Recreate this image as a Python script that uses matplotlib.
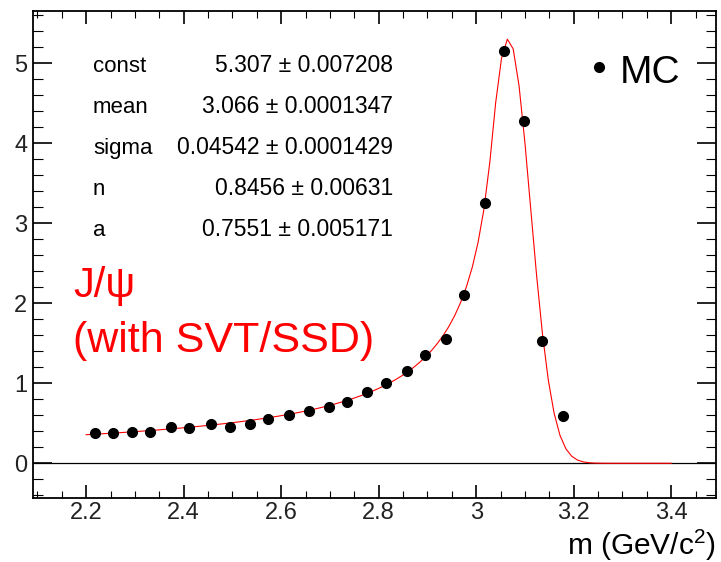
import numpy as np
import matplotlib
matplotlib.use("Agg")
import matplotlib.pyplot as plt
from matplotlib.ticker import MultipleLocator, FuncFormatter

plt.rcParams['font.family'] = ['Liberation Sans', 'DejaVu Sans']
plt.rcParams['mathtext.fontset'] = 'custom'
plt.rcParams['mathtext.rm'] = 'Liberation Sans'

# MC points
mass_mc = [2.2185, 2.256, 2.295, 2.330, 2.374, 2.412, 2.456, 2.495, 2.536,
           2.574, 2.617, 2.658, 2.698, 2.735, 2.777, 2.815, 2.858, 2.895,
           2.938, 2.976, 3.018, 3.058, 3.098, 3.135, 3.178]
yield_mc = [0.383, 0.383, 0.396, 0.396, 0.458, 0.438, 0.491, 0.458, 0.491,
            0.550, 0.604, 0.658, 0.708, 0.766, 0.896, 1.008, 1.158, 1.350,
            1.550, 2.100, 3.258, 5.158, 4.283, 1.533, 0.588]

# Crystal Ball fit parameters (from the stats text)
par_names = ["const", "mean", "sigma", "n", "a"]
par_values = [5.307, 3.066, 0.04542, 0.8456, 0.7551]
par_errors = ["0.007208", "0.0001347", "0.0001429", "0.00631", "0.005171"]
par_labels = ["5.307", "3.066", "0.04542", "0.8456", "0.7551"]
fit_range = (2.2, 3.4)


def crystal_ball(x, const, mean, sigma, n, a):
    t = (x - mean) / sigma
    aa = abs(a)
    A = (n / aa) ** n * np.exp(-0.5 * aa * aa)
    B = n / aa - aa
    out = np.empty_like(t)
    core = t > -aa
    out[core] = np.exp(-0.5 * t[core] ** 2)
    out[~core] = A * (B - t[~core]) ** (-n)
    return const * out


fig = plt.figure(figsize=(7.21, 5.62), dpi=100)
ax = fig.add_axes([33 / 721, 1 - 498 / 562, 683 / 721, 487 / 562])

xf = np.linspace(fit_range[0], fit_range[1], 101)
ax.plot(xf, crystal_ball(xf, *par_values), color='red', lw=0.8, zorder=2)
ax.axhline(0, color='black', lw=0.9, zorder=1)
ax.plot(mass_mc, yield_mc, 'o', color='black', ms=7, zorder=3)

ax.set_xlim(2.091, 3.492)
ax.set_ylim(-0.434, 5.654)

ax.xaxis.set_major_locator(MultipleLocator(0.2))
ax.xaxis.set_minor_locator(MultipleLocator(0.05))
ax.yaxis.set_major_locator(MultipleLocator(1))
ax.yaxis.set_minor_locator(MultipleLocator(0.2))
fmt = FuncFormatter(lambda v, p: "%g" % round(v, 3))
ax.xaxis.set_major_formatter(fmt)
ax.yaxis.set_major_formatter(fmt)

ax.tick_params(axis='x', which='both', direction='in', top=True, bottom=True,
               labelsize=17, pad=3, labelcolor='#222222')
ax.tick_params(axis='x', which='major', length=9.5, width=1.2)
ax.tick_params(axis='x', which='minor', length=5, width=0.8)
ax.tick_params(axis='y', which='both', direction='in', left=True, right=True,
               labelsize=17, pad=4, labelcolor='#222222')
ax.tick_params(axis='y', which='major', length=14, width=1.2)
ax.tick_params(axis='y', which='minor', length=7, width=0.8)
for s in ax.spines.values():
    s.set_linewidth(1.3)

# stats text
base_y = [0.875, 0.791, 0.706, 0.622, 0.538]
for name, lab, err, y in zip(par_names, par_labels, par_errors, base_y):
    ax.text(0.0878, y, name, transform=ax.transAxes, fontsize=16,
            ha='left', va='baseline')
    ax.text(0.527, y, lab + " \u00b1 " + err, transform=ax.transAxes,
            fontsize=16.5, ha='right', va='baseline')

# legend
ax.plot([0.829], [0.885], 'o', color='black', ms=7, transform=ax.transAxes)
ax.text(0.859, 0.852, "MC", transform=ax.transAxes, fontsize=28,
        ha='left', va='baseline')

ax.text(0.0586, 0.413, "J/\u03c8", transform=ax.transAxes, fontsize=30,
        color='red', ha='left', va='baseline')
ax.text(0.0586, 0.300, "(with SVT/SSD)", transform=ax.transAxes, fontsize=31,
        color='red', ha='left', va='baseline')

fig.text(716 / 721, 1 - 555 / 562, r"m (GeV/c$^{2}$)", fontsize=21.5,
         ha='right', va='baseline')

fig.savefig("out.png", dpi=100)
